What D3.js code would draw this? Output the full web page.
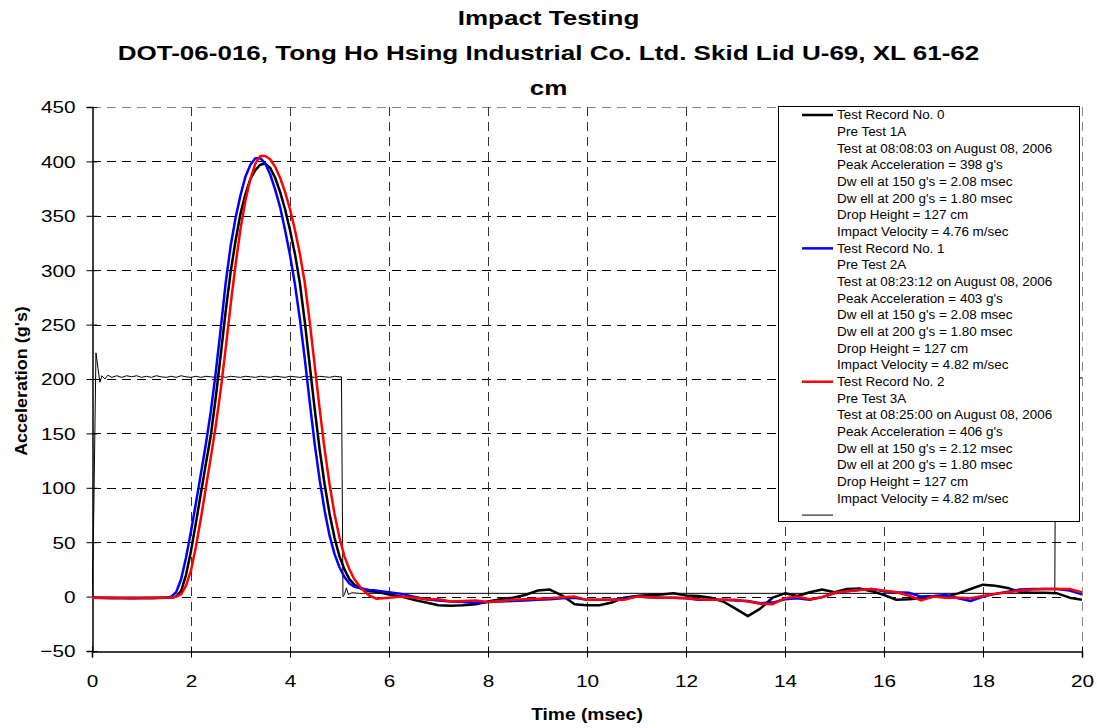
<!DOCTYPE html>
<html>
<head>
<meta charset="utf-8">
<script src="https://cdn.jsdelivr.net/npm/d3@7"></script>
<style>
  html, body { margin: 0; padding: 0; background: #fff; }
  svg { display: block; font-family: Arial, "Liberation Sans", sans-serif; }
</style>
</head>
<body>
<svg id="chart" width="1097" height="728"></svg>
<script>
// ---- Chart data -----------------------------------------------------------
const titleLines = [
  "Impact Testing",
  "DOT-06-016, Tong Ho Hsing Industrial Co. Ltd. Skid Lid U-69, XL 61-62",
  "cm"
];
const xTicks = [0, 2, 4, 6, 8, 10, 12, 14, 16, 18, 20];
const yTicks = [-50, 0, 50, 100, 150, 200, 250, 300, 350, 400, 450];

// Sample times (msec) shared by the three acceleration records
const timeMs = [
  0, 0.4, 0.8, 1.2, 1.5, 1.6, 1.7, 1.8, 1.9, 2.0, 2.1, 2.2, 2.3, 2.4, 2.5, 2.6, 2.7, 2.8, 2.9, 3.0,
  3.1, 3.2, 3.3, 3.4, 3.5, 3.6, 3.7, 3.8, 3.9, 4.0, 4.1, 4.2, 4.3, 4.4, 4.5, 4.6, 4.7, 4.8, 4.9, 5.0,
  5.1, 5.2, 5.3, 5.4, 5.5, 5.6,
  5.75, 6.0, 6.25, 6.5, 6.75, 7.0, 7.25, 7.5, 7.75, 8.0, 8.25, 8.5, 8.75, 9.0, 9.25, 9.5, 9.75, 10.0,
  10.25, 10.5, 10.75, 11.0, 11.25, 11.5, 11.75, 12.0, 12.25, 12.5, 12.75, 13.0, 13.25, 13.5, 13.75, 14.0,
  14.25, 14.5, 14.75, 15.0, 15.25, 15.5, 15.75, 16.0, 16.25, 16.5, 16.75, 17.0, 17.25, 17.5, 17.75, 18.0,
  18.25, 18.5, 18.75, 19.0, 19.25, 19.5, 19.75, 20.0
];

// Test Record No. 0 (g's)
const record0 = [
  -1, -1.5, -1, -1.5, -1, -1, 0, 5, 20, 42, 68, 95, 122, 148, 183, 222, 262, 298, 327, 352,
  370, 384, 392, 397, 398, 394, 385, 372, 356, 337, 315, 288, 252, 212, 172, 135, 103, 76, 54, 37,
  25, 16, 11, 8, 6, 5,
  4.5, 2, 0, -3, -5.5, -8, -8.5, -8, -7, -4.5, -2.5, -1, 1.5, 5.5, 6.5, 1, -7, -8,
  -8, -5.5, -1, 0.5, 1.5, 2, 3, 1, 0.5, -1, -4.5, -11, -18, -11, -1, 3,
  0.5, 4, 6.5, 4, 7, 7.5, 5, 1.5, -3, -2.5, -1.5, 0, 0, 3, 7, 11,
  10, 8, 4, 3.5, 3.5, 3, -1, -3
];

// Test Record No. 1 (g's)
const record1 = [
  -1, -1, -1.5, -1, -1, 0, 4, 16, 36, 60, 86, 113, 140, 170, 206, 246, 288, 322, 348, 369,
  386, 397, 403, 403, 398, 388, 374, 358, 337, 314, 287, 255, 218, 178, 140, 107, 79, 56, 39, 27,
  18, 12, 9, 8, 7, 6,
  5.5, 4, 2.5, 0, -2.5, -3.5, -4.5, -5, -6, -5, -4.5, -4, -3.5, -3, -2.5, -1.5, -1, -3,
  -3, -3, -2, 0, -0.5, -1, -1, -1.5, -3, -3, -3, -3.5, -4, -6, -5.5, -2.5,
  -1.5, -3, -0.5, 3, 5, 6, 7, 5, 4, 3.5, 0, 0.5, 1.5, -1.5, -4, 0,
  2.5, 4.5, 6.5, 7, 7, 7, 5.5, 2
];

// Test Record No. 2 (g's)
const record2 = [
  -1, -1, -1.5, -1, -1, -1, 0, 2, 10, 24, 46, 72, 100, 128, 157, 190, 228, 268, 305, 338,
  364, 384, 398, 405, 405, 402, 395, 385, 372, 356, 337, 315, 288, 252, 212, 172, 135, 103, 76, 54,
  37, 25, 16, 10, 5, 1,
  -2, -1, 0, -1, -2.5, -2.5, -4.5, -4, -3.5, -5, -4, -3, -2.5, -2, -1.5, -0.5, 0, -3,
  -3, -3, -3, 0, -0.5, -1, -1, -1.5, -2.5, -3, -3, -3, -4.5, -6.5, -7, -1.5,
  0, -2.5, -0.5, 3.5, 5, 6, 7, 5.5, 4, 1, -3.5, 0, -1, -1, -1.5, 0.5,
  2.5, 4, 5.5, 6.5, 7, 7, 7, 4
];

// Reference gate trace (thin line)
const gateTime = [
  0, 0.03, 0.08, 0.12, 0.16, 0.2, 0.26, 0.32,
  0.4, 0.5, 0.6, 0.7, 0.8, 0.9, 1.0, 1.1, 1.2, 1.3, 1.4, 1.5, 1.6, 1.7, 1.8, 1.9, 2.0,
  2.1, 2.2, 2.3, 2.4, 2.5, 2.6, 2.7, 2.8, 2.9, 3.0, 3.1, 3.2, 3.3, 3.4, 3.5, 3.6, 3.7,
  3.8, 3.9, 4.0, 4.1, 4.2, 4.3, 4.4, 4.5, 4.6, 4.7, 4.8, 4.9, 5.0, 5.04,
  5.07, 5.1, 5.14, 5.18, 5.25, 5.4, 8, 12, 16, 19.45, 19.47, 20
];
const gateValue = [
  0, 60, 224, 210, 197, 203, 200, 203.5,
  201.5, 203, 201.5, 203, 202, 203, 201.5, 202.5, 201.5, 203, 202, 201.5, 202.5, 201.5, 203, 202, 201.5,
  202.5, 201.5, 202.5, 202, 201.5, 202.5, 201.5, 202.5, 202, 201.5, 202.5, 202, 201.5, 202.5, 202, 201.5, 202.5,
  202, 201.5, 202.5, 202, 201.5, 202.5, 202, 201.5, 202.5, 202, 201.5, 202.5, 202, 202,
  0, 2, 8, 2, 3.5, 3, 3, 3, 3, 3, 200, 201
];

const legendEntries = [
  { name: "Test Record No. 0", color: "#000000", width: 2.5, lines: [
    "Pre Test 1A", "Test at 08:08:03 on August 08, 2006", "Peak Acceleration = 398 g's",
    "Dw ell at 150 g's = 2.08 msec", "Dw ell at 200 g's = 1.80 msec", "Drop Height = 127 cm",
    "Impact Velocity = 4.76 m/sec"] },
  { name: "Test Record No. 1", color: "#0000FF", width: 2.5, lines: [
    "Pre Test 2A", "Test at 08:23:12 on August 08, 2006", "Peak Acceleration = 403 g's",
    "Dw ell at 150 g's = 2.08 msec", "Dw ell at 200 g's = 1.80 msec", "Drop Height = 127 cm",
    "Impact Velocity = 4.82 m/sec"] },
  { name: "Test Record No. 2", color: "#FF0000", width: 2.5, lines: [
    "Pre Test 3A", "Test at 08:25:00 on August 08, 2006", "Peak Acceleration = 406 g's",
    "Dw ell at 150 g's = 2.12 msec", "Dw ell at 200 g's = 1.80 msec", "Drop Height = 127 cm",
    "Impact Velocity = 4.82 m/sec"] },
  { name: "", color: "#000000", width: 1, lines: [] }
];

// ---- Layout ----------------------------------------------------------------
const svg = d3.select("#chart");
const plot = { left: 92, right: 1082, top: 107, bottom: 651 };

const x = d3.scaleLinear().domain([0, 20]).range([plot.left, plot.right]);
const y = d3.scaleLinear().domain([-50, 450]).range([plot.bottom, plot.top]);

// Widen glyphs a little (the chart's text is set in a broad sans face)
function widen(sel, k) {
  sel.each(function () {
    const len = this.getComputedTextLength();
    d3.select(this).attr("textLength", len * k).attr("lengthAdjust", "spacingAndGlyphs");
  });
}

// Title, centred on the whole chart area
const title = svg.append("g").selectAll("text").data(titleLines).join("text")
  .attr("x", 548.5).attr("y", (d, i) => 25 + i * 35)
  .attr("text-anchor", "middle")
  .attr("font-size", 20).attr("font-weight", "bold")
  .text(d => d);
widen(title, 1.3);

// Gridlines
const grid = svg.append("g");
grid.selectAll("line.h").data(yTicks.filter(v => v > -50)).join("line")
  .attr("x1", plot.left).attr("x2", plot.right)
  .attr("y1", d => Math.round(y(d)) + 0.5).attr("y2", d => Math.round(y(d)) + 0.5)
  .attr("stroke", d => d === 450 ? "#888" : "#000")
  .attr("stroke-dasharray", "9,6");
grid.selectAll("line.v").data(xTicks.filter(v => v > 0)).join("line")
  .attr("x1", d => Math.round(x(d)) + 0.5).attr("x2", d => Math.round(x(d)) + 0.5)
  .attr("y1", plot.top).attr("y2", plot.bottom)
  .attr("stroke", d => d === 20 ? "#888" : "#333")
  .attr("stroke-dasharray", "9,6");

// Axes
const xAxis = d3.axisBottom(x).tickValues(xTicks).tickSize(6).tickFormat(d3.format("d"));
const yAxis = d3.axisLeft(y).tickValues(yTicks).tickSize(6).tickFormat(d3.format("d"));

const gx = svg.append("g").attr("transform", `translate(0,${plot.bottom + 0.5})`).call(xAxis);
const gy = svg.append("g").attr("transform", `translate(${plot.left + 0.5},0)`).call(yAxis);

[gx, gy].forEach(g => {
  g.select(".domain").attr("stroke", "#000").attr("stroke-width", 1.5);
  g.selectAll(".tick line").attr("stroke", "#000");
  g.selectAll(".tick text").attr("font-size", 17).attr("font-family", "Arial, 'Liberation Sans', sans-serif").attr("fill", "#000");
});
// cross-style tick marks
gx.selectAll(".tick line").attr("y1", -5).attr("y2", 6);
gy.selectAll(".tick line").attr("x1", 5).attr("x2", -6);
gx.selectAll(".tick text").attr("dy", "0").attr("y", 35);
gy.selectAll(".tick text").attr("x", -17).attr("dy", "0.35em");
widen(gx.selectAll(".tick text"), 1.22);
widen(gy.selectAll(".tick text"), 1.22);

// Axis titles
const xTitle = svg.append("text").attr("x", 587).attr("y", 720)
  .attr("text-anchor", "middle").attr("font-size", 16).attr("font-weight", "bold")
  .text("Time (msec)");
const yTitle = svg.append("text").attr("transform", "translate(27,381) rotate(-90)")
  .attr("text-anchor", "middle").attr("font-size", 16).attr("font-weight", "bold")
  .text("Acceleration (g's)");
widen(xTitle, 1.2);
widen(yTitle, 1.12);

// Traces
svg.append("clipPath").attr("id", "plotClip").append("rect")
  .attr("x", plot.left).attr("y", plot.top)
  .attr("width", plot.right - plot.left).attr("height", plot.bottom - plot.top);

const traces = svg.append("g").attr("clip-path", "url(#plotClip)");
const line = d3.line().x(d => x(d[0])).y(d => y(d[1]));

traces.append("path")
  .attr("d", line(d3.zip(gateTime, gateValue)))
  .attr("fill", "none").attr("stroke", "#000").attr("stroke-width", 1);

[[record0, "#000000"], [record1, "#0000FF"], [record2, "#FF0000"]].forEach(([vals, col]) => {
  traces.append("path")
    .attr("d", line(d3.zip(timeMs, vals)))
    .attr("fill", "none").attr("stroke", col).attr("stroke-width", 2.5)
    .attr("stroke-linejoin", "round");
});

// Legend
const legend = svg.append("g");
legend.append("rect")
  .attr("x", 778.5).attr("y", 106.5).attr("width", 301).attr("height", 415)
  .attr("fill", "#fff").attr("stroke", "#000").attr("stroke-width", 1);

const rowH = 16.67;
let row = 0;
legendEntries.forEach(entry => {
  const yy = 115 + row * rowH;
  legend.append("line")
    .attr("x1", 802).attr("x2", 833).attr("y1", yy).attr("y2", yy)
    .attr("stroke", entry.color).attr("stroke-width", entry.width);
  [entry.name, ...entry.lines].forEach((t, i) => {
    if (!t) return;
    legend.append("text")
      .attr("x", 837).attr("y", 115 + (row + i) * rowH)
      .attr("dy", "0.35em").attr("font-size", 12)
      .text(t);
  });
  row += 1 + entry.lines.length;
});
widen(legend.selectAll("text"), 1.12);
</script>
</body>
</html>
